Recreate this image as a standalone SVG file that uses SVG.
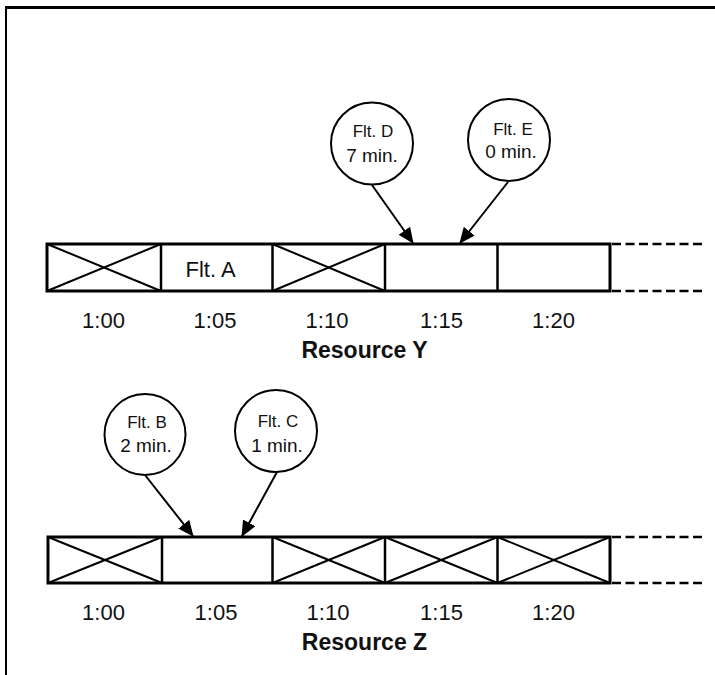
<svg xmlns="http://www.w3.org/2000/svg" width="715" height="675" viewBox="0 0 715 675">
<defs>
<marker id="ah" markerWidth="16" markerHeight="14" refX="15" refY="7" orient="auto" markerUnits="userSpaceOnUse">
<path d="M0,0 L16,7 L0,14 Z" fill="#000"/>
</marker>
<style>
.bar{fill:none;stroke:#000;stroke-width:3}
.div{stroke:#000;stroke-width:2.5}
.x{stroke:#000;stroke-width:2}
.dash{stroke:#000;stroke-width:2.5;stroke-dasharray:9 4.5}
.circ{fill:#fff;stroke:#000;stroke-width:2}
.arr{stroke:#000;stroke-width:2;fill:none;marker-end:url(#ah)}
.t{font-family:"Liberation Sans",Arial,sans-serif;fill:#111;text-anchor:middle}
.time{font-size:22px}
.fl{font-size:17px}
.mn{font-size:19px}
.res{font-size:23px;font-weight:bold}
</style>
</defs>
<rect width="715" height="675" fill="#fff"/>
<g id="frame">
<line x1="5" y1="7.5" x2="715" y2="7.5" stroke="#000" stroke-width="3"/>
<line x1="6" y1="7" x2="6" y2="675" stroke="#000" stroke-width="2"/>
</g>
<g id="resourceY">
<rect class="bar" x="47" y="244" width="563" height="47"/>
<line class="div" x1="161" y1="244" x2="161" y2="291"/>
<line class="div" x1="272.5" y1="244" x2="272.5" y2="291"/>
<line class="div" x1="385" y1="244" x2="385" y2="291"/>
<line class="div" x1="497.5" y1="244" x2="497.5" y2="291"/>
<line class="x" x1="47" y1="244" x2="161" y2="291"/>
<line class="x" x1="47" y1="291" x2="161" y2="244"/>
<line class="x" x1="272.5" y1="244" x2="385" y2="291"/>
<line class="x" x1="272.5" y1="291" x2="385" y2="244"/>
<line class="dash" x1="612" y1="244" x2="706" y2="244"/>
<line class="dash" x1="612" y1="291" x2="706" y2="291"/>
<text class="t time" x="210.5" y="277">Flt. A</text>
<text class="t time" x="103.5" y="328">1:00</text>
<text class="t time" x="215" y="328">1:05</text>
<text class="t time" x="327" y="328">1:10</text>
<text class="t time" x="441.5" y="328">1:15</text>
<text class="t time" x="553.5" y="328">1:20</text>
<text class="t res" x="364.5" y="358">Resource Y</text>
</g>
<g id="resourceZ">
<rect class="bar" x="48" y="537" width="562" height="46"/>
<line class="div" x1="162" y1="537" x2="162" y2="583"/>
<line class="div" x1="272.5" y1="537" x2="272.5" y2="583"/>
<line class="div" x1="385" y1="537" x2="385" y2="583"/>
<line class="div" x1="497.5" y1="537" x2="497.5" y2="583"/>
<line class="x" x1="48" y1="537" x2="162" y2="583"/>
<line class="x" x1="48" y1="583" x2="162" y2="537"/>
<line class="x" x1="272.5" y1="537" x2="385" y2="583"/>
<line class="x" x1="272.5" y1="583" x2="385" y2="537"/>
<line class="x" x1="385" y1="537" x2="497.5" y2="583"/>
<line class="x" x1="385" y1="583" x2="497.5" y2="537"/>
<line class="x" x1="497.5" y1="537" x2="610" y2="583"/>
<line class="x" x1="497.5" y1="583" x2="610" y2="537"/>
<line class="dash" x1="612" y1="537" x2="706" y2="537"/>
<line class="dash" x1="612" y1="583" x2="706" y2="583"/>
<text class="t time" x="103.5" y="620">1:00</text>
<text class="t time" x="216" y="620">1:05</text>
<text class="t time" x="328" y="620">1:10</text>
<text class="t time" x="441.5" y="620">1:15</text>
<text class="t time" x="553.5" y="620">1:20</text>
<text class="t res" x="364.5" y="650">Resource Z</text>
</g>
<g id="connectors">
<line class="arr" x1="372" y1="185" x2="413" y2="243"/>
<line class="arr" x1="508" y1="182" x2="460" y2="243"/>
<line class="arr" x1="145" y1="475" x2="193" y2="536"/>
<line class="arr" x1="277" y1="472" x2="242" y2="536"/>
</g>
<g id="fltD">
<circle class="circ" cx="372" cy="143.5" r="41"/>
<text class="t fl" x="373" y="137">Flt. D</text>
<text class="t mn" x="372" y="162">7 min.</text>
</g>
<g id="fltE">
<circle class="circ" cx="509" cy="140" r="41"/>
<text class="t fl" x="513" y="135">Flt. E</text>
<text class="t mn" x="511" y="158">0 min.</text>
</g>
<g id="fltB">
<circle class="circ" cx="145" cy="434.5" r="40.5"/>
<text class="t fl" x="147" y="428">Flt. B</text>
<text class="t mn" x="146" y="452">2 min.</text>
</g>
<g id="fltC">
<circle class="circ" cx="276" cy="431" r="41"/>
<text class="t fl" x="278" y="427">Flt. C</text>
<text class="t mn" x="277" y="452">1 min.</text>
</g>
</svg>
